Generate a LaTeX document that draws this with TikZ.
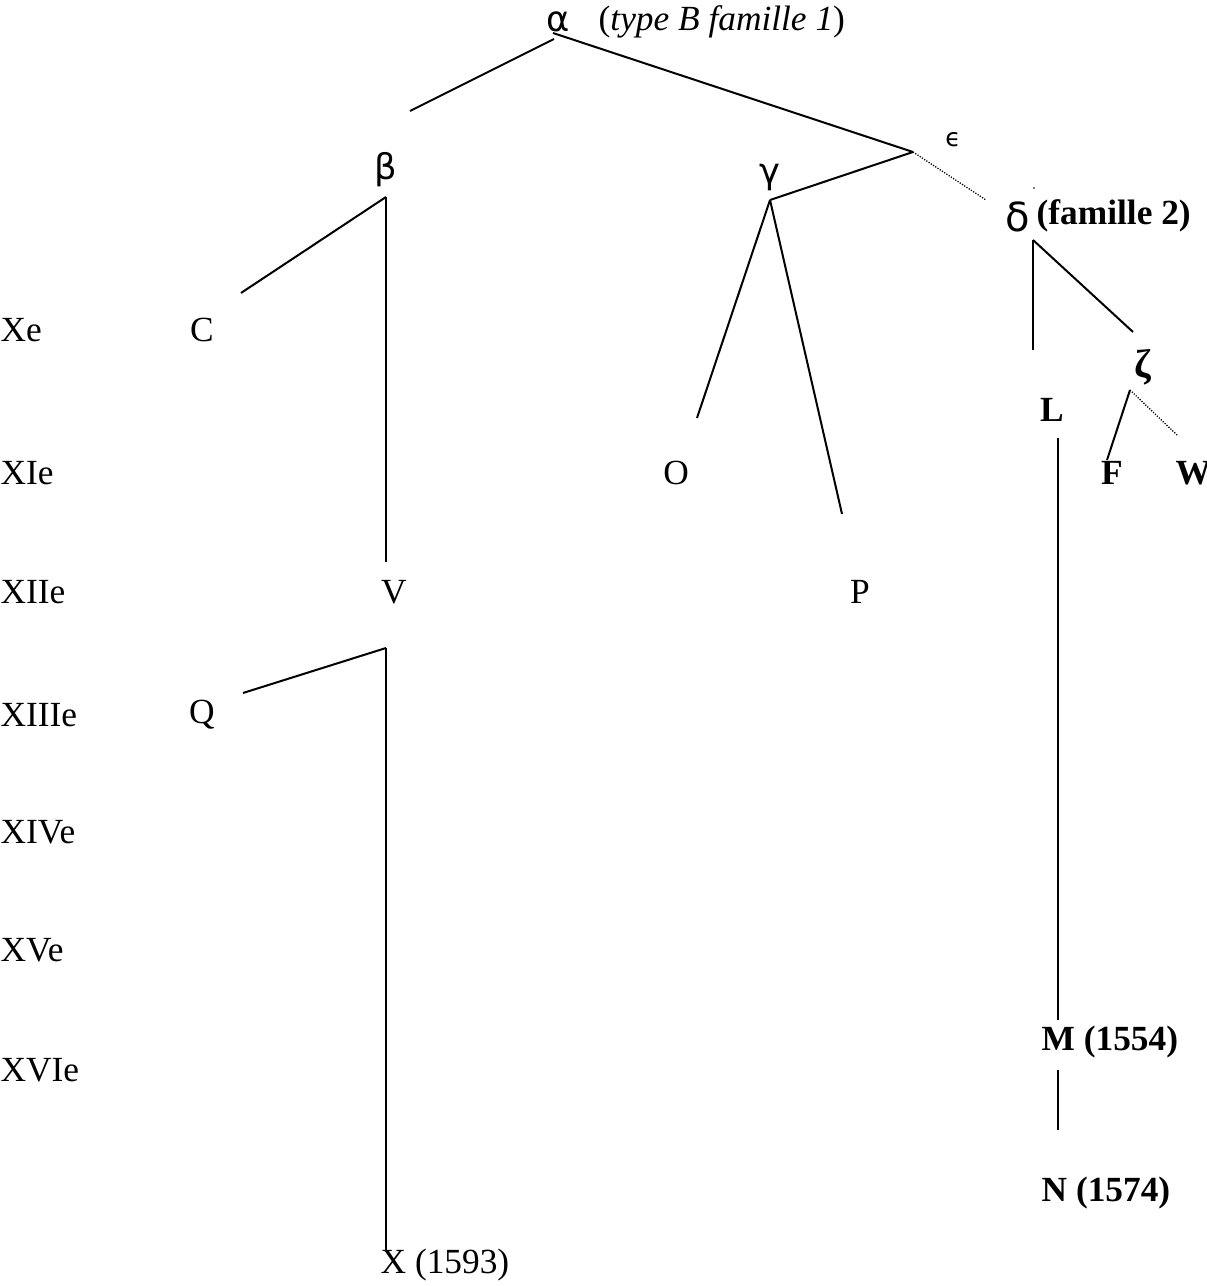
\documentclass[tikz,border=0pt]{standalone}
\usepackage{fontspec}
\setmainfont{Liberation Serif}
\newfontfamily\grk{DejaVu Sans}
\begin{document}
\begin{tikzpicture}[x=0.3pt,y=-0.3pt,
    every node/.style={inner sep=0pt,font=\fontsize{10.6}{13}\selectfont},
    ms/.style={},
    msb/.style={font=\fontsize{10.6}{13}\selectfont\bfseries},
    greek/.style={font=\fontsize{10.6}{13}\selectfont\grk},
    century/.style={anchor=west},
    branch/.style={line width=0.6pt},
    lost/.style={line width=0.4pt,dash pattern=on 0.35pt off 0.45pt}]
  \useasboundingbox (0,0) rectangle (1206,1286);
  % centuries
  \foreach \c/\y in {Xe/330,XIe/473,XIIe/592,XIIIe/715,XIVe/832,XVe/950,XVIe/1070}
    \node[century] (s\c) at (0,\y) {\c};
  % hyparchetypes
  \node[greek] (alpha) at (558,22) {α};
  \node[anchor=west] (alphatxt) at (598,22) {(\textit{type B famille 1})};
  \node[greek] (beta) at (386,170) {β};
  \node[greek] (gamma) at (770,178) {γ};
  \node[greek,font=\fontsize{7.5}{9}\selectfont\grk] (eps) at (953,140) {ϵ};
  \node[greek,font=\fontsize{12}{14}\selectfont\grk] (delta) at (1018,217) {δ};
  \node[msb,anchor=west] (deltatxt) at (1036,216) {(famille 2)};
  \node[msb,font=\fontsize{12}{14}\selectfont\bfseries] (zeta) at (1143,367) {ζ};
  \fill (1034,188) circle (0.9);
  % manuscripts
  \node[ms] (C) at (202,330) {C};
  \node[ms] (V) at (394,592) {V};
  \node[ms] (Q) at (202,715) {Q};
  \node[ms,anchor=west] (X) at (380,1265) {X (1593)};
  \node[ms] (O) at (676,473) {O};
  \node[ms] (P) at (860,592) {P};
  \node[msb] (L) at (1052,410) {L};
  \node[msb] (F) at (1112,473) {F};
  \node[msb,anchor=west] (W) at (1175,473) {W};
  \node[msb,anchor=west] (M) at (1041,1042) {M (1554)};
  \node[msb,anchor=west] (N) at (1041,1193) {N (1574)};
  % branch points
  \coordinate (a1) at (554,39);
  \coordinate (a2) at (553,33);
  \coordinate (e) at (913,152);
  \coordinate (b) at (386,197);
  \coordinate (g) at (770,200);
  \coordinate (d) at (1033,240);
  \coordinate (z) at (1130,390);
  \coordinate (v) at (386,648);
  % stemma
  \draw[branch] (a1) -- (410,111);
  \draw[branch] (a2) -- (e);
  \draw[lost] (e) -- (986,200);
  \draw[branch] (e) -- (g);
  \draw[branch] (g) -- (697,418);
  \draw[branch] (g) -- (842,514);
  \draw[branch] (b) -- (241,293);
  \draw[branch] (b) -- (386,562);
  \draw[branch] (v) -- (243,693);
  \draw[branch] (v) -- (386,1252);
  \draw[branch] (d) -- (1033,350);
  \draw[branch] (d) -- (1133,332);
  \draw[branch] (z) -- (1107,460);
  \draw[lost] (z) -- (1178,436);
  \draw[branch] (1058,438) -- (1058,1020);
  \draw[branch] (1058,1070) -- (1058,1130);
\end{tikzpicture}
\end{document}
